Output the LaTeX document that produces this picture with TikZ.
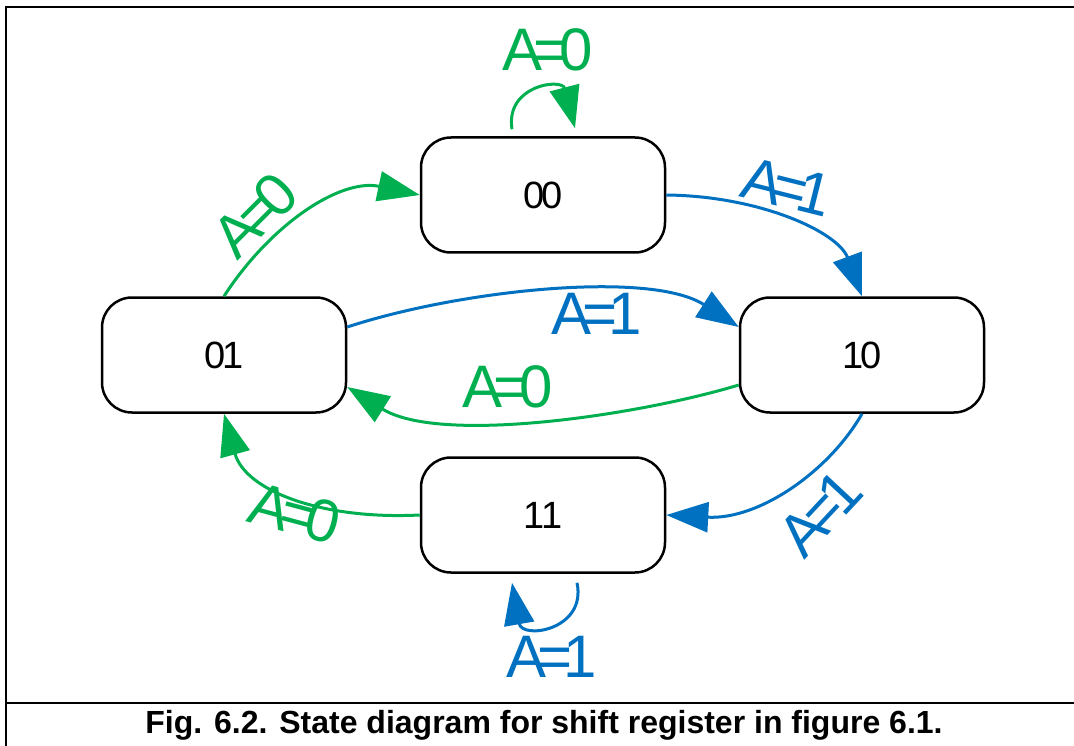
\documentclass[tikz,border=0pt]{standalone}
\usepackage{fontspec}
\setmainfont{Liberation Sans}
\usetikzlibrary{arrows.meta}
\definecolor{grn}{RGB}{0,176,80}
\definecolor{blu}{RGB}{0,112,192}
\newcommand{\eqlab}[1]{A\kern-.15em=\kern-.15em#1}
\newcommand{\stlab}[2]{#1\kern-.06em#2}
\begin{document}
\begin{tikzpicture}[x=1pt,y=-1pt,
  state/.style={draw=black,line width=2.5pt,rounded corners=30pt,minimum width=244pt,minimum height=115pt,inner sep=0pt,font=\fontsize{38}{40}\selectfont},
  edge/.style={line width=3pt,-{Triangle[length=42pt,width=30pt]}},
  gedge/.style={edge,draw=grn},
  bedge/.style={edge,draw=blu},
  lbl/.style={font=\fontsize{60}{60}\selectfont,inner sep=0pt},
  frame/.style={draw=black,line width=2.5pt}]
\useasboundingbox (0,0) rectangle (1074,746);
\draw[frame] (1074,7) -- (6,7) -- (6,746);
\draw[frame] (6,703) -- (1074,703);
\node[state] (n00) at (543,195) {\stlab{0}{0}};
\node[state] (n01) at (224,355) {\stlab{0}{1}};
\node[state] (n10) at (862,355) {\stlab{1}{0}};
\node[state] (n11) at (543,515) {\stlab{1}{1}};
% loops
\draw[gedge] ([xshift=-31pt,yshift=7pt]n00.north) .. controls (505,85) and (562,78) .. ([xshift=32pt,yshift=8pt]n00.north);
\draw[bedge] ([xshift=34pt,yshift=-9pt]n11.south) .. controls (587,630) and (522,640) .. ([xshift=-31pt,yshift=-9pt]n11.south);
% edges
\draw[gedge] (n01.north) .. controls (270,225) and (340,178) .. (n00.west);
\draw[bedge] (n00.east) .. controls (760,196) and (838,232) .. (n10.north);
\draw[bedge] ([yshift=28pt]n01.east) .. controls (460,290) and (650,270) .. ([yshift=28pt]n10.west);
\draw[gedge] ([yshift=-30pt]n10.west) .. controls (640,415) and (440,445) .. ([yshift=-32pt]n01.east);
\draw[bedge] (n10.south) .. controls (830,470) and (760,520) .. (n11.east);
\draw[gedge] (n11.west) .. controls (320,520) and (245,490) .. (n01.south);
% labels
\node[lbl,text=grn] (l1) at (548,50) {\eqlab{0}};
\node[lbl,text=blu] (l2) at (552,657) {\eqlab{1}};
\node[lbl,text=grn,rotate=45] (l3) at (255,215) {\eqlab{0}};
\node[lbl,text=blu,rotate=-14] (l4) at (787,187) {\eqlab{1}};
\node[lbl,text=blu] (l5) at (597,314) {\eqlab{1}};
\node[lbl,text=grn] (l6) at (508,387) {\eqlab{0}};
\node[lbl,text=blu,rotate=47] (l7) at (820,513) {\eqlab{1}};
\node[lbl,text=grn,rotate=-15] (l8) at (295,513) {\eqlab{0}};
\node[font=\bfseries\fontsize{32}{34}\selectfont,anchor=base,inner sep=0pt] (cap) at (544,733) {Fig. 6.2. State diagram for shift register in figure 6.1.};
\end{tikzpicture}
\end{document}
